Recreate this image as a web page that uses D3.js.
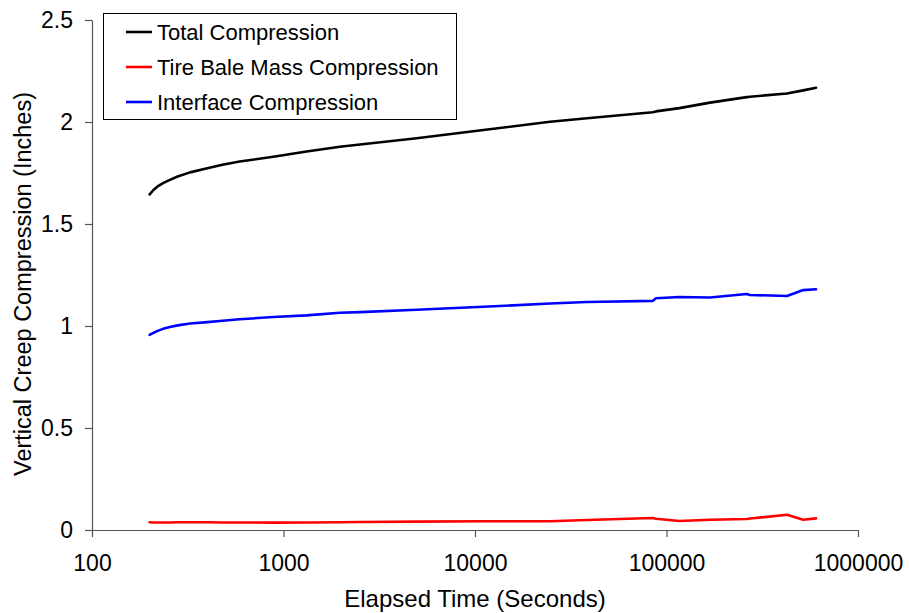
<!DOCTYPE html>
<html>
<head>
<meta charset="utf-8">
<script src="https://cdn.jsdelivr.net/npm/d3@7"></script>
<style>
  html, body { margin: 0; padding: 0; background: #fff; }
  svg { display: block; font-family: "Liberation Sans", Arial, sans-serif; }
</style>
</head>
<body>
<svg id="chart" width="909" height="613"></svg>
<script>
// ---- Data ----
const times = [200, 210, 220, 235, 255, 280, 325, 400, 480, 590, 885, 1320, 1970, 2510, 4960, 11050, 24660, 38500, 84700, 88100, 116700, 168700, 262400, 273000, 425700, 517600, 603900];
const totalCompression = [1.645, 1.668, 1.684, 1.700, 1.716, 1.733, 1.753, 1.773, 1.790, 1.806, 1.830, 1.855, 1.879, 1.890, 1.920, 1.961, 2.001, 2.018, 2.048, 2.052, 2.068, 2.095, 2.122, 2.124, 2.140, 2.155, 2.168];
const tireBaleCompression = [0.038, 0.037, 0.037, 0.037, 0.037, 0.038, 0.038, 0.038, 0.037, 0.037, 0.036, 0.037, 0.038, 0.039, 0.041, 0.043, 0.043, 0.049, 0.059, 0.055, 0.044, 0.050, 0.054, 0.056, 0.075, 0.050, 0.057];
const interfaceCompression = [0.956, 0.967, 0.976, 0.986, 0.995, 1.003, 1.012, 1.019, 1.026, 1.033, 1.044, 1.052, 1.065, 1.068, 1.080, 1.094, 1.110, 1.118, 1.123, 1.136, 1.142, 1.140, 1.157, 1.152, 1.147, 1.176, 1.180];

const seriesNames = ["Total Compression", "Tire Bale Mass Compression", "Interface Compression"];
const seriesColors = ["#000000", "#ff0000", "#0000ff"];
const seriesValues = [totalCompression, tireBaleCompression, interfaceCompression];

const xTicks = [100, 1000, 10000, 100000, 1000000];
const yTicks = [0, 0.5, 1, 1.5, 2, 2.5];
const xTitle = "Elapsed Time (Seconds)";
const yTitle = "Vertical Creep Compression (Inches)";

// ---- Layout ----
const svg = d3.select("#chart");
const plot = { left: 92, right: 858, top: 20, bottom: 530 };

const x = d3.scaleLog().domain([100, 1000000]).range([plot.left, plot.right]);
const y = d3.scaleLinear().domain([0, 2.5]).range([plot.bottom, plot.top]);

const axisColor = "#555";

// X axis
const gx = svg.append("g")
  .attr("transform", `translate(0,${plot.bottom})`)
  .call(d3.axisBottom(x).tickValues(xTicks).tickFormat(d3.format("d")).tickSize(7).tickSizeOuter(0).tickPadding(18));
gx.selectAll("path, line").attr("stroke", axisColor).attr("stroke-width", 1.2);
gx.selectAll("text").attr("font-size", 23).attr("fill", "#000").attr("font-family", "Liberation Sans, Arial, sans-serif");

// Y axis
const gy = svg.append("g")
  .attr("transform", `translate(${plot.left},0)`)
  .call(d3.axisLeft(y).tickValues(yTicks).tickFormat(d => String(d)).tickSize(7).tickSizeOuter(0).tickPadding(12));
gy.selectAll("path, line").attr("stroke", axisColor).attr("stroke-width", 1.2);
gy.selectAll("text").attr("font-size", 23).attr("fill", "#000").attr("font-family", "Liberation Sans, Arial, sans-serif");

// Axis titles
svg.append("text")
  .attr("x", (plot.left + plot.right) / 2)
  .attr("y", 607)
  .attr("text-anchor", "middle")
  .attr("font-size", 24)
  .text(xTitle);

svg.append("text")
  .attr("transform", `translate(31,${(plot.top + plot.bottom) / 2 + 9}) rotate(-90)`)
  .attr("text-anchor", "middle")
  .attr("font-size", 23.5)
  .text(yTitle);

// Lines
const line = d3.line()
  .x(d => x(d[0]))
  .y(d => y(d[1]));

seriesValues.forEach((vals, i) => {
  const pts = times.map((t, k) => [t, vals[k]]);
  svg.append("path")
    .datum(pts)
    .attr("fill", "none")
    .attr("stroke", seriesColors[i])
    .attr("stroke-width", 2.6)
    .attr("stroke-linejoin", "round")
    .attr("stroke-linecap", "round")
    .attr("d", line);
});

// Legend
const legend = svg.append("g");
legend.append("rect")
  .attr("x", 103.5).attr("y", 13.5)
  .attr("width", 353).attr("height", 106)
  .attr("fill", "#fff").attr("stroke", "#000").attr("stroke-width", 1);

const legendYs = [32, 67, 102];
seriesNames.forEach((name, i) => {
  legend.append("line")
    .attr("x1", 126).attr("x2", 152)
    .attr("y1", legendYs[i]).attr("y2", legendYs[i])
    .attr("stroke", seriesColors[i]).attr("stroke-width", 2.6);
  legend.append("text")
    .attr("x", 157).attr("y", legendYs[i] + 7.5)
    .attr("font-size", 22)
    .text(name);
});
</script>
</body>
</html>
